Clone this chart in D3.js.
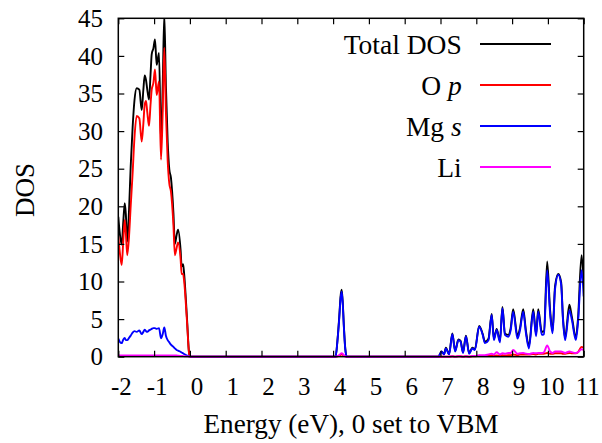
<!DOCTYPE html>
<html><head><meta charset="utf-8">
<script src="https://cdn.jsdelivr.net/npm/d3@7/dist/d3.min.js"></script>
<style>
html,body{margin:0;padding:0;background:#fff;}
svg{display:block;font-family:"Liberation Serif","Times New Roman",serif;}
</style></head><body>
<svg id="c" width="602" height="443"></svg>
<script>
// Energy grid (eV, 0 = VBM)
const energy = [
 -2.00,-1.96,-1.905,-1.86,-1.82,-1.79,-1.75,-1.70,-1.654,-1.60,-1.55,-1.486,-1.413,-1.346,-1.30,-1.263,-1.226,-1.19,-1.142,-1.10,-1.067,-1.02,-0.975,-0.928,-0.863,-0.807,-0.76,-0.715,-0.67,-0.62,-0.575,-0.53,-0.46,-0.42,-0.37,-0.33,-0.26,-0.23,-0.19,-0.16,-0.08,-0.02,0.02,
 4.07,4.12,4.17,4.21,4.24,4.27,4.30,4.34,4.38,6.94,
 7.03,7.10,7.15,7.24,7.33,7.41,7.50,7.56,7.63,7.71,7.80,7.89,7.96,8.08,8.18,8.24,8.34,8.43,8.49,8.57,8.66,8.73,8.80,8.89,8.96,9.03,9.15,9.22,9.31,9.39,9.47,9.59,9.67,9.73,9.83,9.89,9.98,10.06,10.13,10.20,10.29,10.37,10.42,10.48,10.60,10.67,10.78,10.84,10.94,11.0
];
const totalDOS = [
 18.6,16.5,14.9,18.0,20.4,19.0,15.3,19.5,25.3,30.5,34.0,35.7,35.5,32.8,35.5,37.4,36.8,35.5,34.2,37.5,40.2,41.0,42.2,38.8,40.4,28.4,36.0,45.5,36.0,28.5,24.9,23.8,19.1,15.0,16.2,16.9,14.2,12.0,12.3,11.0,5.0,0.4,0,
 0,2.1,5.2,8.1,8.9,7.2,4.2,1.1,0,0,
 0.7,0.35,1.2,0.35,3.1,0.8,2.3,2.1,0.6,2.8,0.5,1.2,1.0,4.1,3.0,2.0,2.4,5.7,2.4,3.7,2.1,6.6,3.1,2.9,3.8,6.3,2.8,3.8,6.3,3.3,1.4,6.3,3.0,6.3,3.3,3.4,12.65,6.3,3.4,9.4,11.0,9.9,5.3,2.5,6.9,5.3,2.6,5.0,13.5,10.0
];
const oP = [
 16.0,14.0,12.2,15.5,18.2,16.5,13.5,16.0,20.0,24.4,29.0,32.0,31.7,28.6,31.0,33.5,34.0,32.5,30.7,33.5,35.5,36.4,38.2,34.8,36.6,26.2,32.5,41.1,32.5,26.0,23.0,22.0,17.5,13.5,14.5,15.2,13.0,11.0,11.0,10.0,4.6,0.35,0,
 0,0.05,0.15,0.25,0.3,0.25,0.15,0.05,0,0,
 0,0,0,0,0.05,0,0.05,0.05,0,0.05,0,0.05,0.05,0.1,0.1,0.1,0.1,0.15,0.1,0.15,0.1,0.2,0.15,0.2,0.2,0.3,0.2,0.3,0.3,0.3,0.3,0.35,0.3,0.4,0.4,0.4,0.5,0.4,0.4,0.45,0.45,0.45,0.4,0.4,0.5,0.45,0.45,0.6,1.3,1.2
];
const mgS = [
 2.4,2.0,1.8,2.3,2.5,2.2,2.2,2.5,2.8,3.2,3.4,3.3,3.5,3.0,3.3,3.6,3.4,3.3,3.5,3.6,3.7,3.8,3.8,3.7,3.8,2.45,3.0,3.9,2.8,2.2,1.9,1.6,1.3,1.1,0.9,0.8,0.65,0.55,0.45,0.35,0.15,0.05,0,
 0,2.0,5.0,7.8,8.66,7.0,4.0,1.0,0,0,
 0.67,0.3,1.1,0.3,3.0,0.7,2.2,2.0,0.5,2.7,0.4,1.1,0.9,4.0,2.9,1.8,2.2,5.55,2.2,3.55,1.9,6.44,2.9,2.66,3.5,6.0,2.4,3.5,6.0,3.0,1.1,6.0,2.7,6.0,2.9,3.0,11.5,5.8,3.1,9.0,10.9,9.6,5.0,2.2,6.2,4.9,2.2,4.5,11.5,8.0
];
const li = [
 0.15,0.15,0.15,0.15,0.15,0.15,0.15,0.15,0.15,0.15,0.15,0.15,0.15,0.15,0.15,0.15,0.15,0.15,0.15,0.15,0.15,0.15,0.15,0.15,0.15,0.15,0.15,0.15,0.15,0.15,0.15,0.15,0.15,0.15,0.15,0.12,0.1,0.1,0.08,0.06,0.04,0.02,0,
 0,0.05,0.2,0.4,0.45,0.4,0.2,0.05,0,0,
 0,0,0,0,0.05,0,0.05,0.05,0,0.05,0,0.1,0.1,0.2,0.2,0.2,0.3,0.4,0.3,0.6,0.3,0.45,0.4,0.5,0.5,0.9,0.4,0.45,0.5,0.4,0.35,0.5,0.45,0.5,0.5,0.6,1.5,0.7,0.5,0.7,0.7,0.7,0.6,0.5,0.7,0.6,0.5,0.6,1.0,0.9
];
const seriesNames = ["Total DOS", "O p", "Mg s", "Li"];
const seriesColors = ["#000000", "#ff0000", "#0000ff", "#ff00ff"];
const xTicks = [-2,-1,0,1,2,3,4,5,6,7,8,9,10,11];
const yTicks = [0,5,10,15,20,25,30,35,40,45];

const svg = d3.select("#c");
const L = 118.3, R = 583.7, T = 18.3, B = 356.7;
const x = d3.scaleLinear().domain([-2, 11]).range([L, R]);
const y = d3.scaleLinear().domain([0, 45]).range([B, T]);

svg.append("defs").append("clipPath").attr("id","clip")
  .append("rect").attr("x", L).attr("y", T).attr("width", R - L).attr("height", B - T + 2);

const allSeries = [totalDOS, oP, mgS, li];
const line = d3.line().x(d => x(d[0])).y(d => y(d[1])).curve(d3.curveMonotoneX);
const g = svg.append("g").attr("clip-path", "url(#clip)");
allSeries.forEach((vals, i) => {
  g.append("path")
    .datum(energy.map((e, k) => [e, vals[k]]))
    .attr("d", line)
    .attr("fill", "none")
    .attr("stroke", seriesColors[i])
    .attr("stroke-width", 1.9)
    .attr("stroke-linejoin", "round");
});

// frame and mirrored inward ticks
const tl = 6;
const axB = d3.axisBottom(x).tickValues(xTicks).tickSize(-tl).tickFormat("");
const axT = d3.axisTop(x).tickValues(xTicks).tickSize(-tl).tickFormat("");
const axL = d3.axisLeft(y).tickValues(yTicks).tickSize(-tl).tickFormat("");
const axR = d3.axisRight(y).tickValues(yTicks).tickSize(-tl).tickFormat("");
[[axB, `translate(0,${B})`], [axT, `translate(0,${T})`], [axL, `translate(${L},0)`], [axR, `translate(${R},0)`]]
  .forEach(([ax, tr]) => {
    const a = svg.append("g").attr("transform", tr).call(ax);
    a.select(".domain").remove();
    a.selectAll("line").attr("stroke", "#000").attr("stroke-width", 1.2);
  });
svg.append("rect").attr("x", L).attr("y", T).attr("width", R - L).attr("height", B - T)
  .attr("fill", "none").attr("stroke", "#000").attr("stroke-width", 1.5);

// tick labels
svg.append("g").selectAll("text").data(yTicks).join("text")
  .attr("x", 103).attr("y", d => y(d)).attr("dy", "0.35em")
  .attr("text-anchor", "end").attr("font-size", 25).text(d => d);
svg.append("g").selectAll("text").data(xTicks).join("text")
  .attr("x", d => x(d) + (d < 0 ? 3 : (d >= 10 ? 4 : 7))).attr("y", 395)
  .attr("text-anchor", "middle").attr("font-size", 25).text(d => d);

// axis titles
svg.append("text").attr("x", (L + R) / 2).attr("y", 433).attr("text-anchor", "middle")
  .attr("font-size", 27.2).text("Energy (eV), 0 set to VBM");
svg.append("text").attr("transform", "translate(34,190) rotate(-90)").attr("text-anchor", "middle")
  .attr("font-size", 27).text("DOS");

// legend
const legY = [44, 85, 126, 167];
const leg = svg.append("g");
seriesNames.forEach((name, i) => {
  const t = leg.append("text").attr("x", 461.7).attr("y", legY[i]).attr("dy", "0.35em")
    .attr("text-anchor", "end").attr("font-size", 27.5);
  const parts = name.split(" ");
  if (parts.length === 2 && parts[0] !== "Total") {
    t.append("tspan").text(parts[0] + " ");
    t.append("tspan").attr("font-style", "italic").text(parts[1]);
  } else {
    t.text(name);
  }
  leg.append("line").attr("x1", 480).attr("x2", 551).attr("y1", legY[i]).attr("y2", legY[i])
    .attr("stroke", seriesColors[i]).attr("stroke-width", 1.9);
});
</script>
</body></html>
